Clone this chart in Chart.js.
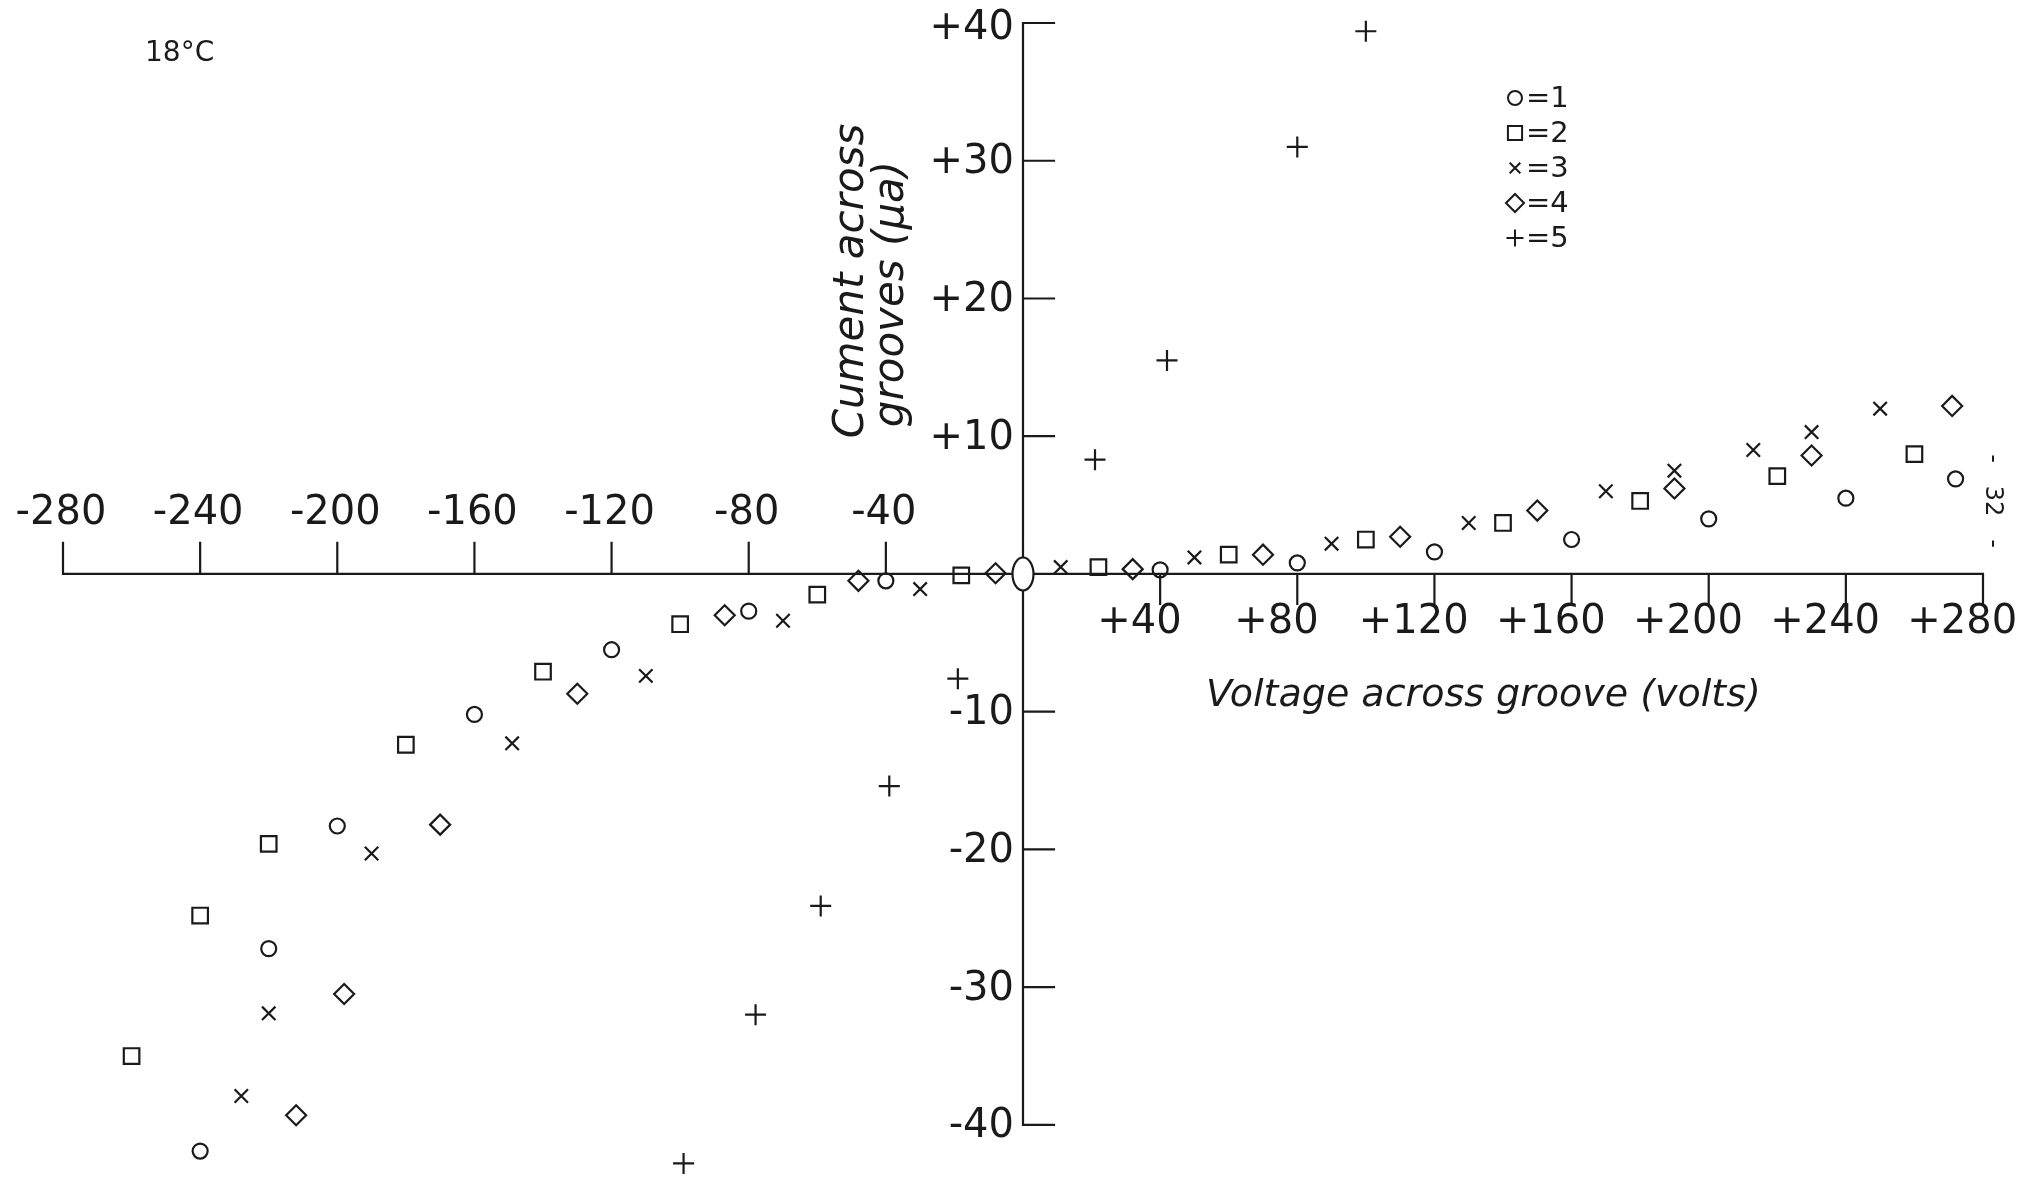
<!DOCTYPE html>
<html>
<head>
<meta charset="utf-8">
<script src="https://cdn.jsdelivr.net/npm/chart.js@4.4.1/dist/chart.umd.min.js"></script>
<style>
  html, body { margin: 0; padding: 0; background: #fff; }
  #wrap { width: 2022px; height: 1181px; position: relative; }
</style>
</head>
<body>
<div id="wrap"><canvas id="grooveChart"></canvas></div>
<script>
// voltage (volts) / current (microamps), one pair of arrays per run
var volts1 = [-240, -220, -200, -160, -120, -80, -40, 40, 80, 120, 160, 200, 240, 272];
var amps1  = [-41.9, -27.2, -18.3, -10.2, -5.5, -2.7, -0.5, 0.3, 0.8, 1.6, 2.5, 4.0, 5.5, 6.9];

var volts2 = [-260, -240, -220, -180, -140, -100, -60, -18, 22, 60, 100, 140, 180, 220, 260];
var amps2  = [-35, -24.8, -19.6, -12.4, -7.1, -3.65, -1.5, -0.1, 0.5, 1.4, 2.5, 3.7, 5.3, 7.1, 8.7];

var volts3 = [-228, -220, -190, -149, -110, -70, -30, 11, 50, 90, 130, 170, 190, 213, 230, 250];
var amps3  = [-37.9, -31.9, -20.3, -12.3, -7.4, -3.4, -1.1, 0.5, 1.2, 2.2, 3.7, 6.0, 7.5, 9.0, 10.3, 12.0];

var volts4 = [-212, -198, -170, -130, -87, -48, -8, 32, 70, 110, 150, 190, 230, 271];
var amps4  = [-39.3, -30.5, -18.2, -8.7, -3.0, -0.5, 0.05, 0.35, 1.4, 2.7, 4.6, 6.2, 8.6, 12.2];

var volts5 = [-99, -78, -59, -39, -19, 21, 42, 80, 100];
var amps5  = [-42.8, -32, -24.1, -15.4, -7.6, 8.3, 15.5, 31, 39.4];

var runNames = ['1', '2', '3', '4', '5'];

// axis ticks as lettered on the sheet
var xTicksNeg = [-280, -240, -200, -160, -120, -80, -40];
var xTicksPos = [40, 80, 120, 160, 200, 240, 280];
var yTicks = [40, 30, 20, 10, -10, -20, -30, -40];

var ink = '#1a1a1a';
var letterFont = '"DejaVu Sans", "Liberation Sans", sans-serif';

var pairs = function(xs, ys){
    return xs.map(function(v, i){ return {x: v, y: ys[i]}; });
};

// big hollow ellipse drawn at the origin
var originMark = document.createElement('canvas');
originMark.width = 26;
originMark.height = 38;
(function(){
    var c = originMark.getContext('2d');
    c.fillStyle = '#fff';
    c.strokeStyle = ink;
    c.lineWidth = 2.2;
    c.beginPath();
    c.ellipse(13, 19, 10.5, 16.5, 0, 0, Math.PI * 2);
    c.fill();
    c.stroke();
})();

var styles = [
    {pointStyle: 'circle', radius: 7.5, legendRadius: 7},
    {pointStyle: 'rect', radius: 11, legendRadius: 10},
    {pointStyle: 'crossRot', radius: 9.5, legendRadius: 7.5},
    {pointStyle: 'rectRot', radius: 10, legendRadius: 9},
    {pointStyle: 'cross', radius: 10.5, legendRadius: 8.5}
];

var runData = [pairs(volts1, amps1), pairs(volts2, amps2), pairs(volts3, amps3), pairs(volts4, amps4), pairs(volts5, amps5)];

var datasets = runData.map(function(d, i){
    return {
        label: runNames[i],
        data: d,
        showLine: false,
        clip: false,
        pointStyle: styles[i].pointStyle,
        pointRadius: styles[i].radius,
        pointHoverRadius: styles[i].radius,
        pointBorderWidth: 2.2,
        borderColor: ink,
        backgroundColor: 'rgba(0,0,0,0)'
    };
});
datasets.push({
    label: 'origin',
    data: [{x: 0, y: 0}],
    showLine: false,
    clip: false,
    pointStyle: originMark,
    pointRadius: 12,
    borderColor: ink,
    backgroundColor: '#fff'
});

var fmt = function(v){ return v > 0 ? '+' + v : String(v); };

var paperAxes = {
    id: 'paperAxes',
    beforeDatasetsDraw: function(chart){
        var ctx = chart.ctx;
        var x = chart.scales.x, y = chart.scales.y;
        var x0 = x.getPixelForValue(0), y0 = y.getPixelForValue(0);
        ctx.save();
        ctx.strokeStyle = ink;
        ctx.lineWidth = 2.2;
        ctx.lineCap = 'square';
        ctx.beginPath();
        ctx.moveTo(x.getPixelForValue(xTicksNeg[0]), y0);
        ctx.lineTo(x.getPixelForValue(xTicksPos[xTicksPos.length - 1]), y0);
        ctx.moveTo(x0, y.getPixelForValue(yTicks[0]));
        ctx.lineTo(x0, y.getPixelForValue(yTicks[yTicks.length - 1]));
        xTicksNeg.forEach(function(v){
            var px = x.getPixelForValue(v);
            ctx.moveTo(px, y0);
            ctx.lineTo(px, y0 - 31);
        });
        xTicksPos.forEach(function(v){
            var px = x.getPixelForValue(v);
            ctx.moveTo(px, y0);
            ctx.lineTo(px, y0 + 30);
        });
        yTicks.forEach(function(v){
            var py = y.getPixelForValue(v);
            ctx.moveTo(x0, py);
            ctx.lineTo(x0 + 31, py);
        });
        ctx.stroke();

        ctx.fillStyle = ink;
        ctx.font = '40px ' + letterFont;
        ctx.textBaseline = 'middle';
        ctx.textAlign = 'center';
        var plusW = ctx.measureText('+').width;
        xTicksNeg.forEach(function(v){
            ctx.fillText(fmt(v), x.getPixelForValue(v) - 2, y0 - 60);
        });
        xTicksPos.forEach(function(v){
            ctx.fillText(fmt(v), x.getPixelForValue(v) - plusW / 2 - 4, y0 + 49);
        });
        ctx.textAlign = 'right';
        yTicks.forEach(function(v){
            ctx.fillText(fmt(v), x0 - 9, y.getPixelForValue(v) + (v === 40 ? 6 : 2));
        });
        ctx.restore();
    },
    afterDraw: function(chart){
        var ctx = chart.ctx;
        ctx.save();
        ctx.fillStyle = ink;
        ctx.textBaseline = 'middle';

        // temperature note
        ctx.textAlign = 'left';
        ctx.font = '28px ' + letterFont;
        ctx.fillText('18°C', 145, 54);

        // axis titles
        ctx.font = 'italic 42px ' + letterFont;
        ctx.textAlign = 'center';
        ctx.save();
        ctx.translate(852, 281);
        ctx.rotate(-Math.PI / 2);
        ctx.fillText('Cument across', 0, 0);
        ctx.restore();
        ctx.save();
        ctx.translate(892, 294);
        ctx.rotate(-Math.PI / 2);
        ctx.fillText('grooves (μa)', 0, 0);
        ctx.restore();

        ctx.font = 'italic 38px ' + letterFont;
        ctx.textAlign = 'left';
        ctx.fillText('Voltage across groove (volts)', 1206, 696);

        // page number on the right margin
        ctx.save();
        ctx.translate(1992, 501);
        ctx.rotate(Math.PI / 2);
        ctx.font = '24px ' + letterFont;
        ctx.textAlign = 'center';
        ctx.fillText('-   32   -', 0, 0);
        ctx.restore();

        // key
        var rows = [98, 133, 168, 203, 238];
        ctx.font = '29px ' + letterFont;
        ctx.textAlign = 'left';
        runNames.forEach(function(name, i){
            ctx.strokeStyle = ink;
            ctx.lineWidth = 2;
            if (Chart.helpers && Chart.helpers.drawPoint) {
                ctx.fillStyle = '#fff';
                Chart.helpers.drawPoint(ctx, {pointStyle: styles[i].pointStyle, radius: styles[i].legendRadius, borderWidth: 2}, 1515, rows[i]);
            }
            ctx.fillStyle = ink;
            ctx.fillText('=' + name, 1526, rows[i] + 1);
        });
        ctx.restore();
    }
};

var ctx = document.getElementById('grooveChart').getContext('2d');
var grooveChart = new Chart(ctx, {
    type: 'scatter',
    data: { datasets: datasets },
    options: {
        responsive: true,
        maintainAspectRatio: false,
        animation: false,
        layout: { autoPadding: false, padding: { left: 63, right: 39, top: 23, bottom: 1 } },
        scales: {
            x: { type: 'linear', min: -280, max: 280, display: false },
            y: { type: 'linear', min: -44, max: 40, display: false }
        },
        plugins: {
            legend: { display: false },
            tooltip: { enabled: false }
        }
    },
    plugins: [paperAxes]
});
</script>
</body>
</html>
